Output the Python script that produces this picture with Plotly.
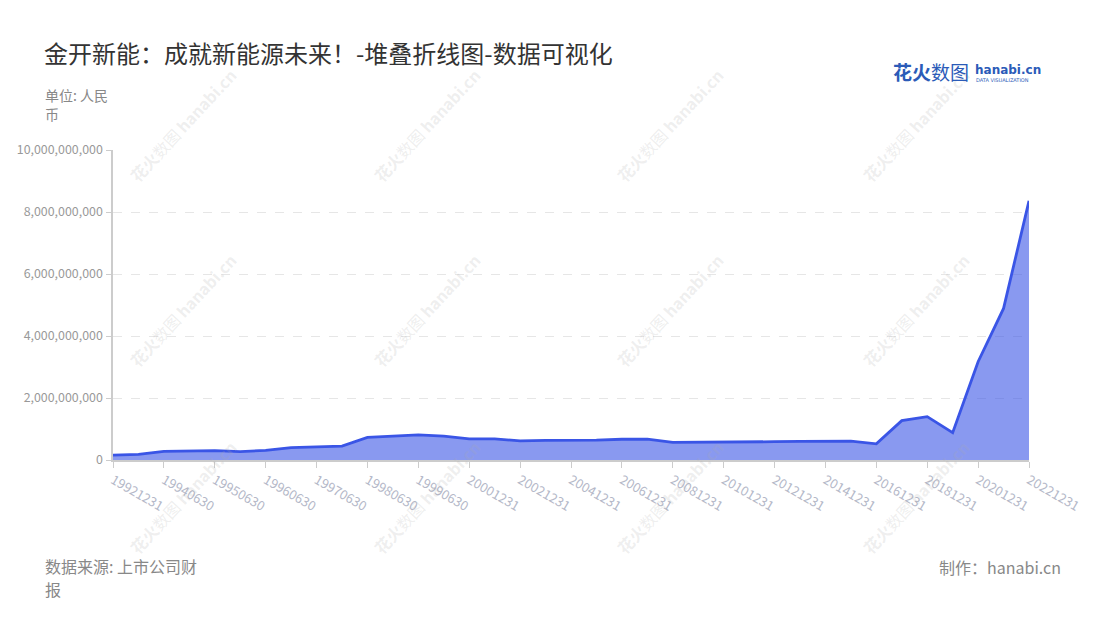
import plotly.graph_objects as go

categories = [
    "19921231", "19931231", "19940630", "19941231", "19950630", "19951231",
    "19960630", "19961231", "19970630", "19971231", "19980630", "19981231",
    "19990630", "19991231", "20001231", "20011231", "20021231", "20031231",
    "20041231", "20051231", "20061231", "20071231", "20081231", "20091231",
    "20101231", "20111231", "20121231", "20131231", "20141231", "20151231",
    "20161231", "20171231", "20181231", "20191231", "20201231", "20211231",
    "20221231",
]
values = [
    0.16e9, 0.18e9, 0.28e9, 0.29e9, 0.30e9, 0.27e9,
    0.31e9, 0.40e9, 0.42e9, 0.45e9, 0.73e9, 0.76e9,
    0.81e9, 0.77e9, 0.68e9, 0.68e9, 0.62e9, 0.63e9,
    0.63e9, 0.64e9, 0.67e9, 0.67e9, 0.57e9, 0.57e9,
    0.57e9, 0.58e9, 0.59e9, 0.60e9, 0.61e9, 0.61e9,
    0.52e9, 1.27e9, 1.40e9, 0.88e9, 3.17e9, 4.89e9,
    8.36e9,
]
tick_labels = categories[::2]
y_ticks = [0, 2e9, 4e9, 6e9, 8e9, 10e9]

W, H = 1100, 620
L, R, T, B = 113, 71, 150, 160
PW, PH = W - L - R, H - T - B

fig = go.Figure()
fig.add_trace(go.Scatter(
    x=categories, y=values, mode="lines",
    line=dict(color="#3a55e6", width=2.8),
    fill="tozeroy", fillcolor="rgba(58,85,230,0.6)",
    hoverinfo="x+y",
))

fig.update_layout(
    width=W, height=H,
    margin=dict(l=L, r=R, t=T, b=B, autoexpand=False),
    paper_bgcolor="white", plot_bgcolor="white",
    font=dict(family="Noto Sans CJK SC, Noto Sans, sans-serif", color="#999999"),
    showlegend=False,
    title=dict(text="金开新能：成就新能源未来！-堆叠折线图-数据可视化",
               x=44/W, xref="container", xanchor="left",
               y=1-55/H, yref="container", yanchor="middle",
               font=dict(size=24, color="#333333")),
)
fig.update_xaxes(
    type="category", range=[0, len(categories)-1], automargin=False,
    tickmode="array", tickvals=tick_labels, ticktext=tick_labels,
    tickangle=30, tickfont=dict(size=13, color="#b4b8c8"),
    showline=True, linecolor="#cccccc", linewidth=1.5,
    ticks="outside", ticklen=6, tickcolor="#cccccc",
    showgrid=False, zeroline=False,
)
fig.update_yaxes(
    range=[0, 10e9], tickvals=y_ticks, automargin=False,
    ticktext=[f"{int(v):,}" for v in y_ticks],
    tickfont=dict(size=12.4, color="#999999"),
    showline=True, linecolor="#cccccc", linewidth=1.5,
    ticks="outside", ticklen=5, tickcolor="#cccccc",
    ticklabelstandoff=1,
    showgrid=True, gridcolor="#e6e6e6", griddash="dash", gridwidth=1,
    zeroline=False,
)

annotations = []
# faint watermarks
for wy in [125, 310, 497]:
    for wx in [183, 427, 670, 916]:
        annotations.append(dict(
            text="<b>花火</b>数图 <b>hanabi.cn</b>", x=wx, y=wy,
            xanchor="center", yanchor="middle", textangle=-47,
            font=dict(size=16, color="rgba(170,170,170,0.2)"),
        ))

annotations += [
    dict(text="单位: 人民", x=44, y=95, xanchor="left", yanchor="middle",
         font=dict(size=14, color="#888888")),
    dict(text="币", x=44, y=114, xanchor="left", yanchor="middle",
         font=dict(size=14, color="#888888")),
    dict(text="数据来源: 上市公司财", x=44, y=566, xanchor="left", yanchor="middle",
         font=dict(size=16, color="#888888")),
    dict(text="报", x=44, y=589, xanchor="left", yanchor="middle",
         font=dict(size=16, color="#888888")),
    dict(text="制作：hanabi.cn", x=1062, y=567, xanchor="right", yanchor="middle",
         font=dict(size=16, color="#888888")),
    dict(text="<b>花火</b>数图", x=892, y=72, xanchor="left", yanchor="middle",
         font=dict(size=19, color="#2b5bb8")),
    dict(text="<b>hanabi.cn</b>", x=974, y=70, xanchor="left", yanchor="middle",
         font=dict(size=12, color="#2b5bb8", family="DejaVu Sans")),
    dict(text="DATA VISUALIZATION", x=975, y=80, xanchor="left", yanchor="middle",
         font=dict(size=5, color="#2b5bb8", family="DejaVu Sans")),
]
for a in annotations:
    a.update(xref="paper", yref="paper", showarrow=False, borderpad=0)
    a["x"] = (a["x"] - L) / PW
    a["y"] = (H - B - a["y"]) / PH
fig.update_layout(annotations=annotations)

fig.write_html("out.html", config={"displayModeBar": False},
               post_script="document.body.style.margin='0';")
